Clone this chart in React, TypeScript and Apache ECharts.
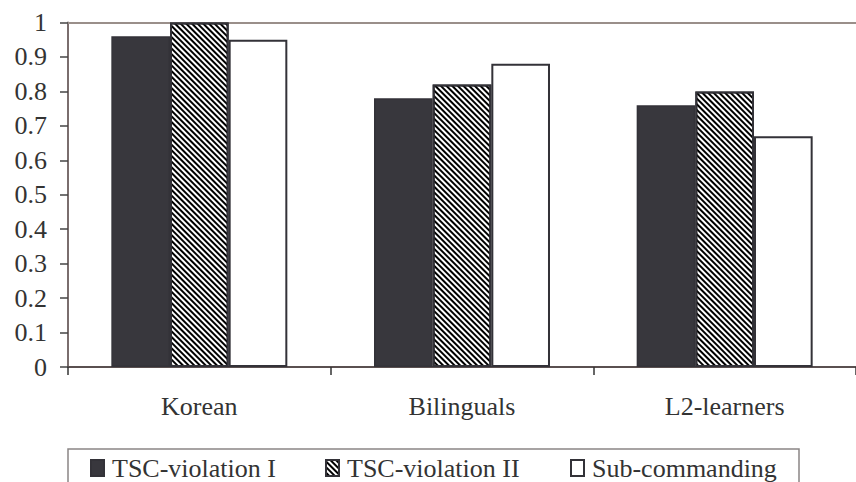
import React, { useEffect, useRef } from "react";
import * as echarts from "echarts";

const categories = ["Korean", "Bilinguals", "L2-learners"];
const seriesNames = ["TSC-violation I", "TSC-violation II", "Sub-commanding"];
const tscViolationI = [0.96, 0.78, 0.76];
const tscViolationII = [1.0, 0.82, 0.8];
const subCommanding = [0.95, 0.88, 0.67];

const FONT = "Liberation Serif";

export default function App() {
  const ref = useRef<HTMLDivElement>(null);
  useEffect(() => {
    if (!ref.current) return;
    const chart = echarts.init(ref.current, null, { renderer: "svg" });
    const border = "#333238";
    const hatch = {
      symbol: "rect",
      symbolSize: 1,
      symbolKeepAspect: false,
      color: "#000000",
      backgroundColor: "#ffffff",
      dashArrayX: [1, 0],
      dashArrayY: [1.4, 1.4],
      rotation: Math.PI / 4,
    };
    const legendText = { fontFamily: FONT, fontSize: 26, color: "#333333", padding: [0, 0, 0, 3] };
    const legendBase = { padding: 0, itemWidth: 13, itemHeight: 16, icon: "rect", top: 455, textStyle: legendText };
    chart.setOption({
      animation: false,
      backgroundColor: "#ffffff",
      textStyle: { fontFamily: FONT },
      grid: { left: 68, top: 22.5, right: -13, bottom: 115, containLabel: false },
      xAxis: [
        {
          type: "category",
          data: categories,
          axisLine: { show: true, lineStyle: { color: "#5a5050", width: 2 } },
          axisTick: { show: true, length: 8, inside: false, lineStyle: { color: "#333", width: 1.5 } },
          axisLabel: { fontFamily: FONT, fontSize: 26, color: "#333333", margin: 26 },
        },
        {
          type: "category",
          data: categories,
          position: "top",
          axisLine: { show: true, lineStyle: { color: "#9a8f8a", width: 2 } },
          axisTick: { show: false },
          axisLabel: { show: false },
        },
      ],
      yAxis: {
        type: "value",
        min: 0,
        max: 1,
        interval: 0.1,
        axisLine: { show: true, lineStyle: { color: "#7a6e6e", width: 2 } },
        axisTick: { show: true, length: 8, lineStyle: { color: "#444", width: 1.5 } },
        splitLine: { show: false },
        axisLabel: { fontFamily: FONT, fontSize: 26, color: "#333333", margin: 21 },
      },
      legend: [
        { ...legendBase, data: [seriesNames[0]], left: 90 },
        { ...legendBase, data: [seriesNames[1]], left: 325 },
        { ...legendBase, data: [seriesNames[2]], left: 570 },
      ],
      graphic: [
        {
          type: "rect",
          shape: { x: 68, y: 449, width: 731, height: 60 },
          style: { fill: "none", stroke: "#8a8585", lineWidth: 1.5 },
          silent: true,
        },
      ],
      series: [
        { name: seriesNames[0], type: "bar", data: tscViolationI, barGap: "0%", barCategoryGap: "33%", itemStyle: { color: "#38373d", borderColor: border, borderWidth: 1.5 } },
        { name: seriesNames[1], type: "bar", data: tscViolationII, barGap: "0%", barCategoryGap: "33%", itemStyle: { color: "#ffffff", borderColor: border, borderWidth: 2, decal: hatch } },
        { name: seriesNames[2], type: "bar", data: subCommanding, barGap: "0%", barCategoryGap: "33%", itemStyle: { color: "#ffffff", borderColor: border, borderWidth: 2 } },
      ],
    });
    return () => chart.dispose();
  }, []);
  return <div ref={ref} style={{ width: 856, height: 482, position: "fixed", left: 0, top: 0 }} />;
}
